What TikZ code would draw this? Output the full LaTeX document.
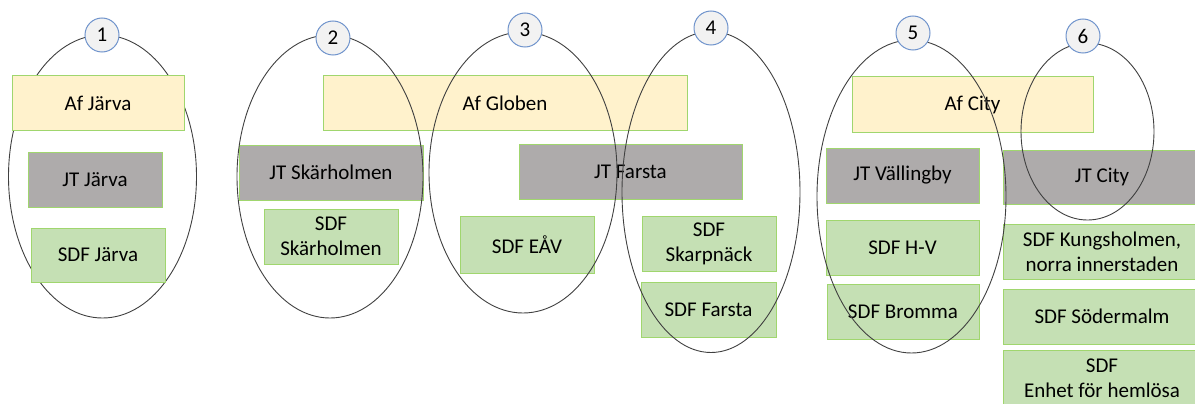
\documentclass[tikz,border=0pt]{standalone}
\usepackage{fontspec}
\setmainfont{Carlito}
\usetikzlibrary{shapes.geometric}
\definecolor{afyellow}{HTML}{FFF2CC}
\definecolor{jtgrey}{HTML}{AEABAB}
\definecolor{sdfgreen}{HTML}{C5E0B4}
\definecolor{edgegreen}{RGB}{160,214,110}
\definecolor{ringline}{HTML}{404040}
\definecolor{numfill}{HTML}{F2F2F2}
\definecolor{numedge}{HTML}{7094CC}
\tikzset{
  x=1pt, y=-1pt,
  unitbox/.style={draw=edgegreen, line width=1pt, inner sep=0pt, align=center,
    font=\fontsize{21}{25}\selectfont, text=black},
  afbox/.style={unitbox, fill=afyellow},
  jtbox/.style={unitbox, fill=jtgrey},
  sdfbox/.style={unitbox, fill=sdfgreen},
  ring/.style={ellipse, draw=ringline, line width=0.9pt, inner sep=0pt},
  num/.style={circle, draw=numedge, fill=numfill, line width=1pt, minimum size=34pt,
    inner sep=0pt, font=\fontsize{21}{25}\selectfont},
}
\begin{document}
\begin{tikzpicture}
\useasboundingbox (0,0) rectangle (1195,404);
\begin{scope}
\clip (0,0) rectangle (1195,404);
% ring 1 lies beneath its boxes
\node[ring, minimum width=188pt, minimum height=283pt] (r1) at (102.5,176.5) {};
% Af level
\node[afbox, minimum width=172pt, minimum height=54pt] (afjarva) at (98,103) {Af Järva};
\node[afbox, minimum width=364pt, minimum height=54pt] (afgloben) at (505,103) {Af Globen};
\node[afbox, minimum width=241pt, minimum height=55pt] (afcity) at (972.5,104.5) {Af City};
% JT level
\node[jtbox, minimum width=134pt, minimum height=55pt] (jtjarva) at (95,179.5) {JT Järva};
\node[jtbox, minimum width=184pt, minimum height=55pt] (jtskar) at (331,172.5) {JT Skärholmen};
\node[jtbox, minimum width=223pt, minimum height=55pt] (jtfarsta) at (630.5,171.5) {JT Farsta};
\node[jtbox, minimum width=153pt, minimum height=55pt] (jtvall) at (902.5,175.5) {JT Vällingby};
\node[jtbox, minimum width=198pt, minimum height=54pt] (jtcity) at (1102,177) {JT City};
% SDF level
\node[sdfbox, minimum width=134pt, minimum height=54pt] (sdfjarva) at (98,255) {SDF Järva};
\node[sdfbox, minimum width=134pt, minimum height=55pt] (sdfskar) at (331,236.5) {SDF\\Skärholmen};
\node[sdfbox, minimum width=134pt, minimum height=57pt] (sdfeav) at (527,244.5) {SDF EÅV};
\node[sdfbox, minimum width=134pt, minimum height=55pt] (sdfskarp) at (709,243.5) {SDF\\Skarpnäck};
\node[sdfbox, minimum width=135pt, minimum height=55pt] (sdffarsta) at (708.5,309.5) {SDF Farsta};
\node[sdfbox, minimum width=153pt, minimum height=55pt] (sdfhv) at (902.5,247.5) {SDF H-V};
\node[sdfbox, minimum width=152pt, minimum height=55pt] (sdfbromma) at (903,311.5) {SDF Bromma};
\node[sdfbox, minimum width=198pt, minimum height=55pt] (sdfkung) at (1102,251.5) {SDF Kungsholmen,\\norra innerstaden};
\node[sdfbox, minimum width=198pt, minimum height=55pt] (sdfsoder) at (1102,316.5) {SDF Södermalm};
\node[sdfbox, minimum width=198pt, minimum height=55pt] (sdfenhet) at (1102,378) {SDF\\Enhet för hemlösa};
% rings drawn over the boxes
\node[ring, minimum width=186pt, minimum height=283pt] (r2) at (330,176.5) {};
\node[ring, minimum width=188pt, minimum height=281pt] (r3) at (523,172.5) {};
\node[ring, minimum width=178pt, minimum height=321pt] (r4) at (711,192) {};
\node[ring, minimum width=189pt, minimum height=313pt] (r5) at (911.5,196.5) {};
\node[ring, minimum width=133pt, minimum height=177pt] (r6) at (1087.5,131.5) {};
% number badges
\node[num] (n1) at (102,35) {1};
\node[num] (n2) at (333,38) {2};
\node[num] (n3) at (525,30) {3};
\node[num] (n4) at (711,28) {4};
\node[num] (n5) at (913,33) {5};
\node[num] (n6) at (1083,36) {6};
\end{scope}
\end{tikzpicture}
\end{document}
